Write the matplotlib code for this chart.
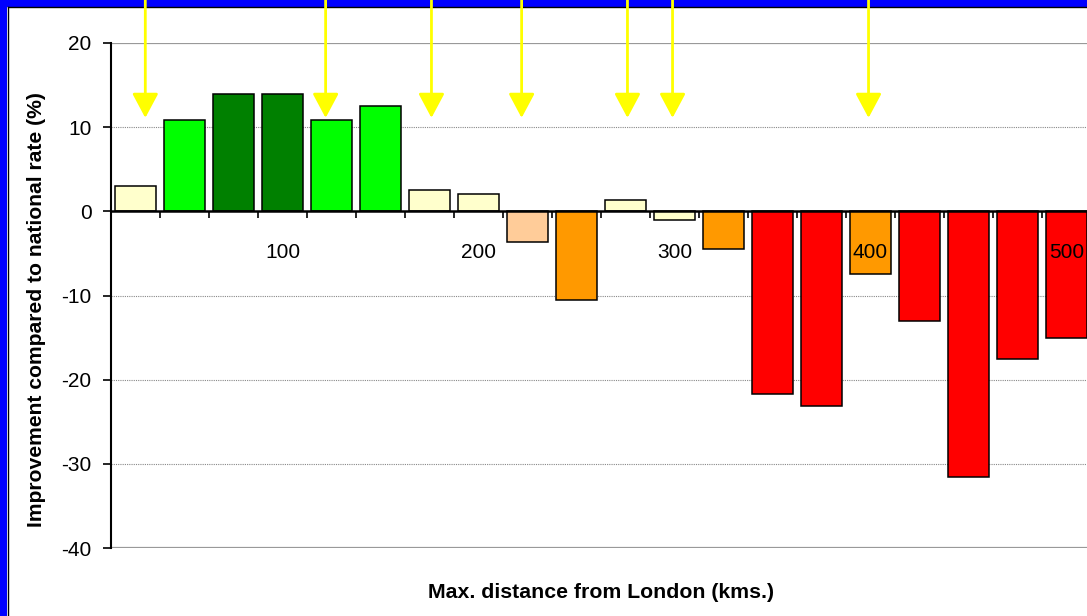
import matplotlib
matplotlib.use("Agg")
import matplotlib.pyplot as plt
from matplotlib.patches import Rectangle
from matplotlib.lines import Line2D

plt.rcParams["font.family"] = ["Liberation Sans", "DejaVu Sans"]

# Distance bands (upper bound in km) and improvement vs national rate (%)
distance_km = [25, 50, 75, 100, 125, 150, 175, 200, 225, 250,
               275, 300, 325, 350, 375, 400, 425, 450, 475, 500]
improvement = [3.0, 10.8, 13.9, 13.9, 10.8, 12.5, 2.5, 2.1, -3.6, -10.5,
               1.3, -1.0, -4.5, -21.7, -23.1, -7.4, -13.0, -31.6, -17.5, -15.0]
band_colors = ["#FFFFCC", "#00FF00", "#008000", "#008000", "#00FF00", "#00FF00",
               "#FFFFCC", "#FFFFCC", "#FFCC99", "#FF9900", "#FFFFCC", "#FFFFCC",
               "#FF9900", "#FF0000", "#FF0000", "#FF9900", "#FF0000", "#FF0000",
               "#FF0000", "#FF0000"]
labelled_km = [100, 200, 300, 400, 500]
y_ticks = [20, 10, 0, -10, -20, -30, -40]

# Marked locations (km from London) shown with arrows
marker_km = [30, 122, 176, 222, 276, 299, 399]
arrow_tip = 11.1

W, H = 1087, 616
fig = plt.figure(figsize=(W / 100, H / 100), dpi=100)

# Blue frame along the top and left edges
fig.patches.append(Rectangle((0, 0), 7 / W, 1, transform=fig.transFigure,
                             facecolor="#0000FF", edgecolor="none", zorder=-2))
fig.patches.append(Rectangle((0, 1 - 6.5 / H), 1, 6.5 / H, transform=fig.transFigure,
                             facecolor="#0000FF", edgecolor="none", zorder=-2))
fig.lines.append(Line2D([7.5 / W, 7.5 / W], [0, 1 - 7 / H], transform=fig.transFigure,
                        color="black", lw=1.0, zorder=-1))
fig.lines.append(Line2D([7.5 / W, 1], [1 - 7.2 / H, 1 - 7.2 / H], transform=fig.transFigure,
                        color="black", lw=1.0, zorder=-1))

left, right = 111, 111 + 20 * 49
top, bottom = 43, 548
ax = fig.add_axes([left / W, (H - bottom) / H, (right - left) / W, (bottom - top) / H])
ax.set_axisbelow(False)

pos = [d / 25 - 1 for d in distance_km]
ax.bar(pos, improvement, width=0.85, color=band_colors, edgecolor="black",
       linewidth=1.1, zorder=2)

ax.set_xlim(-0.5, len(distance_km) - 0.5)
ax.set_ylim(-40, 20)

# Horizontal grid
for v in y_ticks:
    if v in (20, -40):
        ax.axhline(v, color="#999999", lw=1.6, zorder=1)
    elif v != 0:
        ax.axhline(v, color="#888888", lw=0.8, ls=(0, (1, 1)), zorder=1)

for s in ("top", "right"):
    ax.spines[s].set_visible(False)
ax.spines["left"].set_color("black")
ax.spines["left"].set_linewidth(1.5)
ax.spines["bottom"].set_position(("data", 0))
ax.spines["bottom"].set_color("black")
ax.spines["bottom"].set_linewidth(1.8)

ax.set_yticks(y_ticks)
ax.set_yticklabels([str(v) for v in y_ticks])
ax.tick_params(axis="y", direction="out", length=6, width=1.2, pad=8,
               labelsize=15, colors="black")

ax.set_xticks([d / 25 - 1 for d in labelled_km])
ax.set_xticklabels([str(d) for d in labelled_km])
ax.set_xticks([i + 0.5 for i in range(-1, len(distance_km))], minor=True)
ax.tick_params(axis="x", which="major", length=0, pad=23, labelsize=15)
ax.tick_params(axis="x", which="minor", direction="out", length=5, width=1.2)

ax.set_ylabel("Improvement compared to national rate (%)", fontsize=15.2,
              fontweight="bold")
ax.yaxis.set_label_coords((46 - left) / (right - left), (bottom - 310) / (bottom - top))
ax.set_xlabel("Max. distance from London (kms.)", fontsize=15.3, fontweight="bold")
ax.xaxis.set_label_coords(0.5, -(583 - bottom) / (bottom - top))

# Yellow arrows from the top edge down to the markers
for km in marker_km:
    x = km / 25 - 1
    ax.annotate("", xy=(x, arrow_tip), xycoords="data",
                xytext=(x, 1.0), textcoords=("data", "figure fraction"),
                arrowprops=dict(arrowstyle="-|>,head_length=0.75,head_width=0.4",
                                color="#FFFF00", lw=2, shrinkA=0, shrinkB=0,
                                mutation_scale=20),
                annotation_clip=False, zorder=5)

fig.savefig("out.png", dpi=100)
